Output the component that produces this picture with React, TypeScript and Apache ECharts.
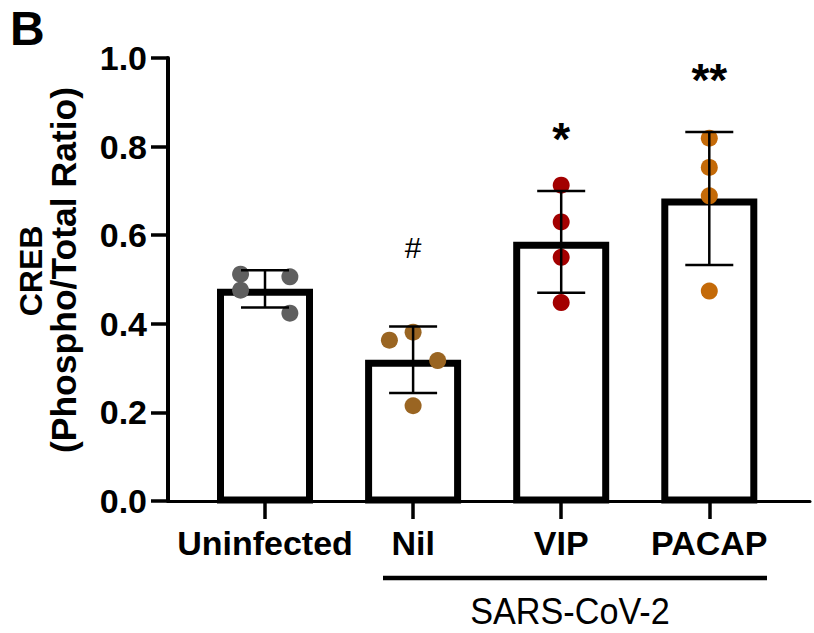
import React, { useEffect, useRef } from "react";
import * as echarts from "echarts";

// ---- data ----
const categories = ["Uninfected", "Nil", "VIP", "PACAP"];
const means = [0.479, 0.319, 0.585, 0.683];
const sds = [0.042, 0.075, 0.115, 0.15];
const pointsUninfected = [0.512, 0.476, 0.506, 0.424];
const pointsNil = [0.363, 0.381, 0.317, 0.215];
const pointsVIP = [0.713, 0.63, 0.55, 0.448];
const pointsPACAP = [0.819, 0.753, 0.689, 0.474];
const jitterUninfected = [-0.165, -0.165, 0.168, 0.168];
const jitterNil = [-0.16, 0, 0.166, 0];
const jitterVIP = [0, 0, 0, 0];
const jitterPACAP = [0, 0, 0, 0];
const annotationTexts = ["", "#", "*", "**"];
const annotationHeights = [0, 0.572, 0.818, 0.951];
const yMin = 0;
const yMax = 1;
const yStep = 0.2;
const xMin = -0.655;
const xMax = 3.68;

const dotColors = ["#5f5f5f", "#9a6522", "#a30000", "#c46a08"];
const FONT = "'Liberation Sans', Arial, Helvetica, sans-serif";

const groups = [
  { vals: pointsUninfected, jit: jitterUninfected },
  { vals: pointsNil, jit: jitterNil },
  { vals: pointsVIP, jit: jitterVIP },
  { vals: pointsPACAP, jit: jitterPACAP },
];

export default function App() {
  const ref = useRef<HTMLDivElement>(null);

  useEffect(() => {
    if (!ref.current) return;
    const chart = echarts.init(ref.current, null, { renderer: "svg" });

    const scatterSeries = groups.map((g, i) => ({
      type: "scatter",
      name: categories[i],
      z: 3,
      symbol: "circle",
      symbolSize: 17,
      itemStyle: { color: dotColors[i], opacity: 1 },
      data: g.vals.map((v, j) => [i + g.jit[j], v]),
      silent: true,
    }));

    const option: any = {
      animation: false,
      backgroundColor: "#ffffff",
      grid: {
        left: 168,
        right: 4,
        top: 58,
        bottom: 132,
        containLabel: false,
        outerBoundsMode: "none",
      },
      xAxis: {
        type: "value",
        min: xMin,
        max: xMax,
        splitLine: { show: false },
        axisLine: { show: true, onZero: false, lineStyle: { color: "#000", width: 3 } },
        axisTick: {
          show: true,
          customValues: [0, 1, 2, 3],
          length: 18,
          lineStyle: { color: "#000", width: 3.5 },
        },
        axisLabel: {
          customValues: [0, 1, 2, 3],
          formatter: (v: number) => categories[Math.round(v)] ?? "",
          fontSize: 34,
          fontWeight: "bold",
          fontFamily: FONT,
          color: "#000",
          margin: 25,
        },
      },
      yAxis: {
        type: "value",
        min: yMin,
        max: yMax,
        interval: yStep,
        splitLine: { show: false },
        axisLine: { show: true, onZero: false, lineStyle: { color: "#000", width: 4 } },
        axisTick: {
          show: true,
          inside: false,
          length: 17,
          lineStyle: { color: "#000", width: 3.5 },
        },
        axisLabel: {
          formatter: (v: number) => v.toFixed(1),
          fontSize: 34,
          fontWeight: "bold",
          fontFamily: FONT,
          color: "#000",
          margin: 21,
        },
      },
      series: [
        {
          type: "custom",
          name: "bars",
          z: 2,
          silent: true,
          data: means.map((m, i) => [i, m]),
          renderItem: (_p: any, api: any) => {
            const x = api.value(0);
            const y = api.value(1);
            const top = api.coord([x, y]);
            const base = api.coord([x, 0]);
            const w = 89;
            const half = 3.5;
            return {
              type: "rect",
              shape: {
                x: top[0] - w / 2,
                y: top[1] + half,
                width: w,
                height: base[1] - top[1] - half - 1,
              },
              style: { fill: "#ffffff", stroke: "#000000", lineWidth: 7 },
            };
          },
        },
        ...scatterSeries,
        {
          type: "custom",
          name: "errors",
          z: 4,
          silent: true,
          data: means.map((m, i) => [i, m, sds[i]]),
          renderItem: (_p: any, api: any) => {
            const x = api.value(0);
            const m = api.value(1);
            const s = api.value(2);
            const hi = api.coord([x, m + s]);
            const lo = api.coord([x, m - s]);
            const hw = 24;
            const st = { stroke: "#000", lineWidth: 2.5 };
            return {
              type: "group",
              children: [
                { type: "line", shape: { x1: hi[0], y1: hi[1], x2: lo[0], y2: lo[1] }, style: st },
                { type: "line", shape: { x1: hi[0] - hw, y1: hi[1], x2: hi[0] + hw, y2: hi[1] }, style: st },
                { type: "line", shape: { x1: lo[0] - hw, y1: lo[1], x2: lo[0] + hw, y2: lo[1] }, style: st },
              ],
            };
          },
        },
        {
          type: "custom",
          name: "annotations",
          z: 5,
          silent: true,
          data: annotationHeights.map((h, i) => [i, h]),
          renderItem: (p: any, api: any) => {
            const txt = annotationTexts[p.dataIndex];
            if (!txt) return null;
            const pt = api.coord([api.value(0), api.value(1)]);
            const isHash = txt === "#";
            return {
              type: "text",
              x: pt[0],
              y: pt[1],
              style: {
                text: txt,
                fontSize: isHash ? 30 : 46,
                fontWeight: isHash ? "normal" : "bold",
                fontFamily: FONT,
                fill: "#000",
                align: "center",
                verticalAlign: "middle",
              },
            };
          },
        },
      ],
      graphic: [
        {
          type: "text",
          x: 10,
          y: 28,
          style: {
            text: "B",
            fontSize: 48,
            fontWeight: "bold",
            fontFamily: FONT,
            fill: "#000",
            align: "left",
            verticalAlign: "middle",
          },
        },
        {
          type: "text",
          x: 31,
          y: 271,
          rotation: Math.PI / 2,
          style: {
            text: "CREB",
            fontSize: 32,
            fontWeight: "bold",
            fontFamily: FONT,
            fill: "#000",
            align: "center",
            verticalAlign: "middle",
          },
        },
        {
          type: "text",
          x: 64,
          y: 270,
          rotation: Math.PI / 2,
          style: {
            text: "(Phospho/Total Ratio)",
            fontSize: 35.5,
            fontWeight: "bold",
            fontFamily: FONT,
            fill: "#000",
            align: "center",
            verticalAlign: "middle",
          },
        },
        {
          type: "line",
          shape: { x1: 383, y1: 578, x2: 767, y2: 578 },
          style: { stroke: "#000", lineWidth: 4.5 },
        },
        {
          type: "text",
          x: 570,
          y: 611,
          scaleX: 0.95,
          style: {
            text: "SARS-CoV-2",
            fontSize: 36,
            fontFamily: FONT,
            fill: "#000",
            align: "center",
            verticalAlign: "middle",
          },
        },
      ],
    };

    chart.setOption(option);
    return () => chart.dispose();
  }, []);

  return (
    <div
      ref={ref}
      style={{ position: "fixed", left: 0, top: 0, width: 814, height: 633, background: "#fff" }}
    />
  );
}
